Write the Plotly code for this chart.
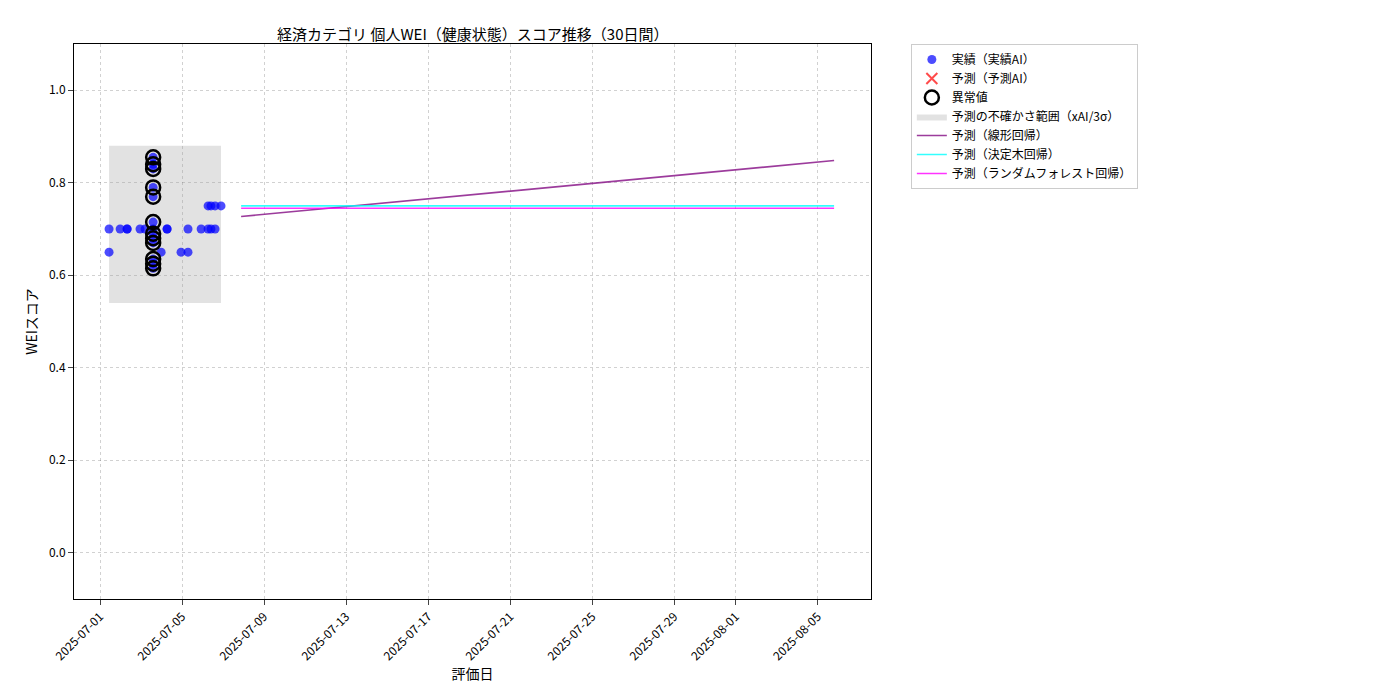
import pandas as pd
import plotly.graph_objects as go

base = pd.Timestamp("2025-07-01")

# actual scores (day offset from 2025-07-01, score)
actual_days = [0.44, 0.44, 0.98, 1.32, 1.32, 1.95, 2.2, 2.59, 2.98, 3.27, 3.27, 3.95, 4.29, 4.29,
               4.93, 5.27, 5.27, 5.41, 5.41, 5.61, 5.61, 5.9,
               2.59, 2.59, 2.59, 2.59, 2.59, 2.59, 2.59, 2.59, 2.59, 2.59, 2.59, 2.59]
actual_vals = [0.70, 0.65, 0.70, 0.70, 0.70, 0.70, 0.70, 0.70, 0.65, 0.70, 0.70, 0.65, 0.70, 0.65,
               0.70, 0.70, 0.75, 0.70, 0.75, 0.70, 0.75, 0.75,
               0.855, 0.84, 0.83, 0.79, 0.77, 0.715, 0.69, 0.68, 0.67, 0.635, 0.625, 0.615]
outlier_days = [2.59] * 12
outlier_vals = [0.855, 0.84, 0.83, 0.79, 0.77, 0.715, 0.69, 0.68, 0.67, 0.635, 0.625, 0.615]

band_days = [0.44, 5.9]
band_low, band_high = 0.54, 0.88

pred_days = [6.88, 35.8]
linear_vals = [0.727, 0.848]
tree_vals = [0.750, 0.750]
forest_vals = [0.745, 0.745]

tick_labels = ["2025-07-01", "2025-07-05", "2025-07-09", "2025-07-13", "2025-07-17", "2025-07-21",
               "2025-07-25", "2025-07-29", "2025-08-01", "2025-08-05"]

def to_dt(days):
    return [base + pd.Timedelta(days=d) for d in days]

fig = go.Figure()
bx = to_dt(band_days)
fig.add_trace(go.Scatter(x=[bx[0], bx[1], bx[1], bx[0], bx[0]],
                         y=[band_low, band_low, band_high, band_high, band_low],
                         fill="toself", fillcolor="rgba(160,160,160,0.3)", line=dict(width=0),
                         mode="lines", name="予測の不確かさ範囲（xAI/3σ）", legendrank=4))
fig.add_trace(go.Scatter(x=to_dt(actual_days), y=actual_vals, mode="markers",
                         marker=dict(color="rgba(0,0,255,0.7)", size=9), name="実績（実績AI）", legendrank=1))
fig.add_trace(go.Scatter(x=[None], y=[None], mode="markers",
                         marker=dict(color="rgba(255,0,0,0.7)", symbol="x-thin", size=11,
                                     line=dict(width=2, color="rgba(255,0,0,0.7)")),
                         name="予測（予測AI）", legendrank=2))
fig.add_trace(go.Scatter(x=to_dt(outlier_days), y=outlier_vals, mode="markers",
                         marker=dict(color="rgba(0,0,0,0)", size=14, line=dict(width=2.5, color="black")),
                         name="異常値", legendrank=3))
px_ = to_dt(pred_days)
fig.add_trace(go.Scatter(x=px_, y=linear_vals, mode="lines", line=dict(color="#8B1A8B", width=1.6),
                         opacity=0.85, name="予測（線形回帰）", legendrank=5))
fig.add_trace(go.Scatter(x=px_, y=tree_vals, mode="lines", line=dict(color="cyan", width=1.6),
                         opacity=0.8, name="予測（決定木回帰）", legendrank=6))
fig.add_trace(go.Scatter(x=px_, y=forest_vals, mode="lines", line=dict(color="magenta", width=1.6),
                         opacity=0.8, name="予測（ランダムフォレスト回帰）", legendrank=7))

grid = dict(showgrid=True, gridcolor="rgba(0,0,0,0.18)", griddash="dot", gridwidth=1,
            showline=True, linecolor="black", mirror=True, ticks="outside", zeroline=False,
            automargin=False)
fig.update_xaxes(range=to_dt([-1.27, 37.6]), tickvals=[pd.Timestamp(t) for t in tick_labels],
                 ticktext=tick_labels, tickangle=-45, title=dict(text="評価日", standoff=2), **grid)
fig.update_yaxes(range=[-0.1, 1.1], tickvals=[0, 0.2, 0.4, 0.6, 0.8, 1.0],
                 tickformat=".1f", title=dict(text="WEIスコア", standoff=8), **grid)
fig.update_layout(
    width=1400, height=700, plot_bgcolor="white", paper_bgcolor="white",
    font=dict(family="Noto Sans CJK JP", size=12, color="black"),
    title=dict(text="経済カテゴリ 個人WEI（健康状態）スコア推移（30日間）", x=0.332, xanchor="center",
               y=0.97, font=dict(size=15)),
    margin=dict(l=66, r=537, t=36, b=109),
    legend=dict(x=1.05, y=1.0, xanchor="left", yanchor="top", bordercolor="#ccc", borderwidth=1,
                font=dict(size=12), tracegroupgap=0),
)
fig.write_html("out.html")
